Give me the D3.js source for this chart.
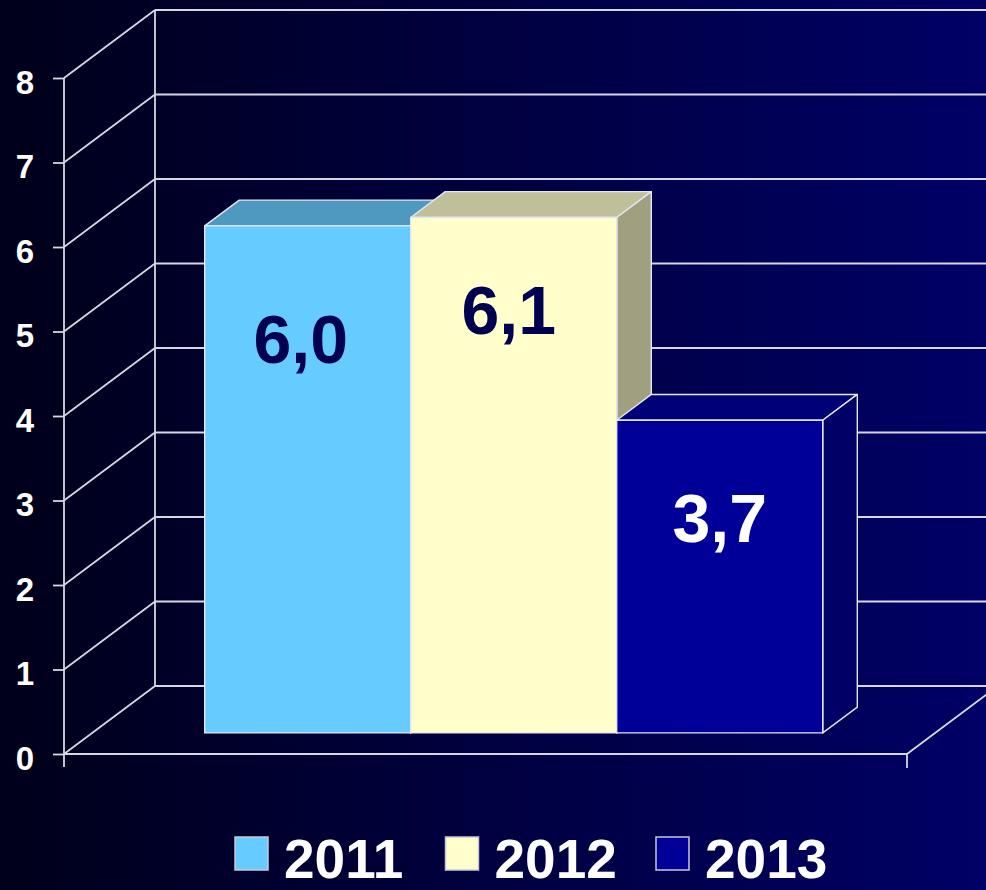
<!DOCTYPE html>
<html>
<head>
<meta charset="utf-8">
<script src="https://cdn.jsdelivr.net/npm/d3@7/dist/d3.min.js"></script>
<style>
  html, body { margin: 0; padding: 0; background: #000020; }
  svg { display: block; }
  text { font-family: "Liberation Sans", Arial, sans-serif; font-weight: bold; }
</style>
</head>
<body>
<svg id="chart" width="986" height="890"></svg>
<script>
// Series (years) and their values
const series = ["2011", "2012", "2013"];
const values = [6.0, 6.1, 3.7];
const yTicks = [0, 1, 2, 3, 4, 5, 6, 7, 8];

// Face colours per series: front, top, side
const frontColors = ["#66CCFF", "#FFFFCC", "#000099"];
const topColors   = ["#4D99BF", "#BFBF99", "#000077"];
const sideColors  = ["#3D7A99", "#A0A080", "#000066"];
const labelColors = ["#000050", "#000050", "#FFFFFF"];

// Layout
const W = 986, H = 890;
const floorLeft = 64, floorRight = 907;
const DX = 91, DY = -68;           // depth vector of the 3D box
const barZ0 = 0.31, barZ1 = 0.69;  // bar depth range inside the box
const labelDy = [137, 117, 122];
const labelDx = [-7, -5, 0];
const gridColor = "#d6d6e4";

const svg = d3.select("#chart");

// Background gradient
const defs = svg.append("defs");
const grad = defs.append("linearGradient").attr("id", "bg")
  .attr("x1", "0%").attr("y1", "0%").attr("x2", "100%").attr("y2", "0%");
grad.append("stop").attr("offset", "0%").attr("stop-color", "#00001a");
grad.append("stop").attr("offset", "100%").attr("stop-color", "#000066");
svg.append("rect").attr("width", W).attr("height", H).attr("fill", "url(#bg)");

// Scales
const y = d3.scaleLinear().domain([0, 8]).range([754, 78]);
const x = d3.scaleBand().domain(series).range([floorLeft, floorRight])
  .paddingInner(0).paddingOuter(0.546);

const P = (px, v, z) => [px + DX * z, y(v) + DY * z];
const line = d3.line();

const grid = svg.append("g")
  .attr("fill", "none").attr("stroke", gridColor).attr("stroke-width", 1.8);

// Back wall horizontal gridlines and left wall diagonals
yTicks.forEach(t => {
  grid.append("path").attr("d", line([P(floorLeft, t, 1), [W + 20, y(t) + DY]]));
  grid.append("path").attr("d", line([P(floorLeft, t, 0), P(floorLeft, t, 1)]));
});
// Back wall vertical edge
grid.append("path").attr("d", line([P(floorLeft, 0, 1), P(floorLeft, 8, 1)]));
// Front vertical axis line (with a short extension below zero)
grid.append("path").attr("d", line([[floorLeft, y(0) + 13], [floorLeft, y(8)]]));
// Floor front edge, right tick and right diagonal
grid.append("path").attr("d", line([P(floorLeft, 0, 0), P(floorRight, 0, 0)]));
grid.append("path").attr("d", line([[floorRight, y(0) + 14], P(floorRight, 0, 0), P(floorRight, 0, 1)]));

// Y axis ticks and labels
const axis = svg.append("g").attr("transform", `translate(${floorLeft},0)`)
  .call(d3.axisLeft(y).tickValues(yTicks).tickSize(11).tickPadding(19).tickFormat(d3.format("d")));
axis.select(".domain").remove();
axis.selectAll(".tick line").attr("stroke", gridColor).attr("stroke-width", 1.8);
axis.selectAll(".tick text")
  .attr("fill", "#ffffff").attr("font-size", 33)
  .attr("font-family", "'Liberation Sans', Arial, sans-serif")
  .attr("font-weight", "bold").attr("dy", 15);

// Bars: front, top and right-side faces
const bars = svg.append("g").attr("stroke", "#e6e6f2").attr("stroke-width", 1.4)
  .attr("stroke-linejoin", "round");
series.forEach((s, i) => {
  const v = values[i];
  const xl = x(s), xr = x(s) + x.bandwidth();
  const g = bars.append("g");
  // top face
  g.append("path").attr("fill", topColors[i])
    .attr("d", line([P(xl, v, barZ0), P(xl, v, barZ1), P(xr, v, barZ1), P(xr, v, barZ0)]) + "Z");
  // side face
  g.append("path").attr("fill", sideColors[i])
    .attr("d", line([P(xr, 0, barZ0), P(xr, v, barZ0), P(xr, v, barZ1), P(xr, 0, barZ1)]) + "Z");
  // front face
  g.append("path").attr("fill", frontColors[i])
    .attr("d", line([P(xl, 0, barZ0), P(xl, v, barZ0), P(xr, v, barZ0), P(xr, 0, barZ0)]) + "Z");
});

// Value labels
const locale = d3.formatLocale({ decimal: ",", thousands: ".", grouping: [3], currency: ["", ""] });
const fmt = locale.format(".1f");
series.forEach((s, i) => {
  const v = values[i];
  const cx = x(s) + x.bandwidth() / 2 + DX * barZ0 + labelDx[i];
  const top = P(0, v, barZ0)[1];
  svg.append("text")
    .attr("x", cx).attr("y", top + labelDy[i])
    .attr("text-anchor", "middle")
    .attr("font-size", 68)
    .attr("fill", labelColors[i])
    .text(fmt(v));
});

// Legend
const legend = svg.append("g").attr("transform", "translate(235,837)");
series.forEach((s, i) => {
  const item = legend.append("g").attr("transform", `translate(${i * 210.5},0)`);
  item.append("rect").attr("width", 33).attr("height", 33)
    .attr("fill", frontColors[i]).attr("stroke", "#c8c8d8").attr("stroke-width", 1.5);
  item.append("text").attr("x", 49).attr("y", 41)
    .attr("font-size", 55).attr("fill", "#ffffff").text(s);
});
</script>
</body>
</html>
